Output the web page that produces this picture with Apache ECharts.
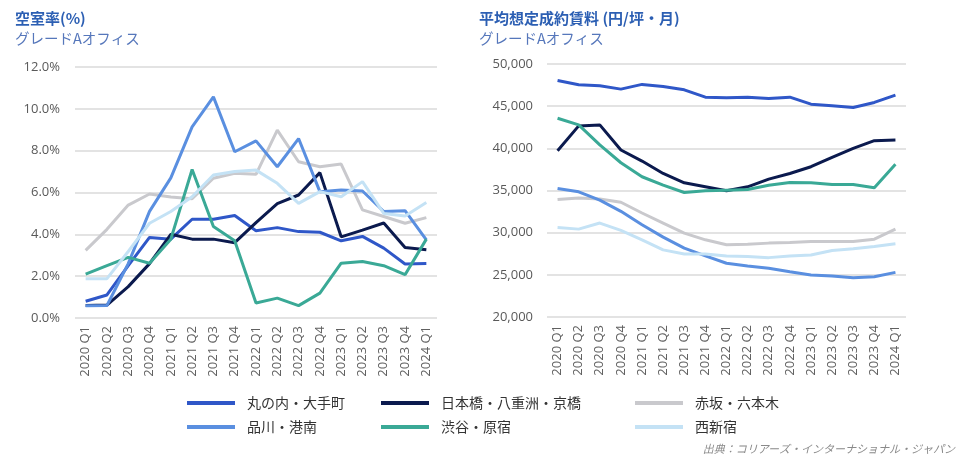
<!DOCTYPE html>
<html><head><meta charset="utf-8">
<script src="https://cdn.jsdelivr.net/npm/echarts@6/dist/echarts.min.js"></script>
<style>html,body{margin:0;padding:0;background:#fff}#c{width:963px;height:464px}</style>
</head><body><div id="c"></div>
<script>
const categories = ['2020 Q1','2020 Q2','2020 Q3','2020 Q4','2021 Q1','2021 Q2','2021 Q3','2021 Q4','2022 Q1','2022 Q2','2022 Q3','2022 Q4','2023 Q1','2023 Q2','2023 Q3','2023 Q4','2024 Q1'];
const seriesNames = ['丸の内・大手町','日本橋・八重洲・京橋','赤坂・六本木','品川・港南','渋谷・原宿','西新宿'];
const seriesColors = ['#2f57c8','#0b1a4e','#c9c9cd','#5a8fe0','#3aa996','#c4e2f5'];

// Vacancy rate (%)
const vacMarunouchi = [0.8,1.1,2.5,3.85,3.77,4.72,4.72,4.9,4.17,4.32,4.13,4.1,3.69,3.9,3.34,2.58,2.6];
const vacNihonbashi = [0.6,0.62,1.5,2.6,4.0,3.77,3.77,3.6,4.56,5.47,5.88,6.95,3.88,4.2,4.54,3.37,3.26];
const vacAkasaka = [3.23,4.24,5.4,5.93,5.78,5.7,6.68,6.92,6.87,8.98,7.47,7.23,7.36,5.17,4.85,4.53,4.8];
const vacShinagawa = [0.58,0.6,2.6,5.1,6.7,9.14,10.57,7.95,8.47,7.23,8.58,6.04,6.12,6.07,5.09,5.13,3.74];
const vacShibuya = [2.1,2.5,2.9,2.62,3.77,7.1,4.37,3.69,0.72,0.95,0.59,1.19,2.62,2.7,2.5,2.07,3.77];
const vacNishiShinjuku = [1.88,1.88,3.18,4.53,5.09,5.8,6.84,7.0,7.07,6.44,5.48,6.04,5.8,6.52,5.0,4.88,5.52];

// Average assumed contract rent (yen/tsubo/month)
const rentMarunouchi = [48050,47540,47420,47020,47580,47340,46940,46070,45990,46070,45910,46070,45240,45040,44840,45440,46310];
const rentNihonbashi = [39720,42660,42780,39800,38490,37020,35910,35440,34960,35440,36350,37020,37820,38930,40000,40910,40990];
const rentAkasaka = [33930,34120,34000,33610,32330,31140,29950,29150,28560,28640,28760,28830,28950,28950,28950,29230,30420];
const rentShinagawa = [35240,34840,33850,32530,30940,29470,28160,27240,26370,26050,25770,25370,24980,24860,24660,24780,25290];
const rentShibuya = [43570,42780,40400,38290,36630,35630,34760,34960,35040,35120,35630,35950,35910,35710,35710,35320,38100];
const rentNishiShinjuku = [30620,30420,31140,30270,29150,27960,27480,27480,27240,27160,27040,27240,27360,27880,28080,28360,28680];

const vacData = [vacMarunouchi,vacNihonbashi,vacAkasaka,vacShinagawa,vacShibuya,vacNishiShinjuku];
const rentData = [rentMarunouchi,rentNihonbashi,rentAkasaka,rentShinagawa,rentShibuya,rentNishiShinjuku];

const FONT = '"Open Sans","Noto Sans CJK JP",sans-serif';
const JFONT = '"Noto Sans CJK JP","Open Sans",sans-serif';

function mkSeries(data, idx){
  return data.map((d,i)=>({
    name: seriesNames[i], type:'line', xAxisIndex: idx, yAxisIndex: idx,
    data: d, symbol:'none', lineStyle:{width:3, color: seriesColors[i]},
    itemStyle:{color: seriesColors[i]}, z: 2, animation:false
  }));
}
function xAx(idx){
  return {type:'category', gridIndex: idx, data: categories, boundaryGap:true,
    axisLine:{show:false}, axisTick:{show:false},
    axisLabel:{rotate:90, fontSize:13, color:'#606060', fontFamily:FONT, margin:8, interval:0}};
}
const splitLine = {show:true, lineStyle:{color:'#dadada', width:1.5}};
const legendCols = [[0,3],[1,4],[2,5]];
const legendLeft = [182, 376, 630];

const chart = echarts.init(document.getElementById('c'), null, {renderer:'canvas'});
chart.setOption({
  animation:false,
  title:[
    {text:'空室率(%)', subtext:'グレードAオフィス', left:10, top:6, itemGap:5,
     textStyle:{fontSize:15, fontWeight:'bold', color:'#2c5fb3', fontFamily:JFONT},
     subtextStyle:{fontSize:14.5, color:'#5677bb', fontFamily:JFONT}},
    {text:'平均想定成約賃料 (円/坪・月)', subtext:'グレードAオフィス', left:474, top:6, itemGap:5,
     textStyle:{fontSize:15, fontWeight:'bold', color:'#2c5fb3', fontFamily:JFONT},
     subtextStyle:{fontSize:14.5, color:'#5677bb', fontFamily:JFONT}}
  ],
  grid:[
    {left:75, top:67, width:362, height:251},
    {left:547, top:64, width:359, height:253}
  ],
  xAxis:[xAx(0), xAx(1)],
  yAxis:[
    {type:'value', gridIndex:0, min:0, max:12, interval:2,
     axisLabel:{formatter:v=>v.toFixed(1)+'%', fontSize:13, color:'#595959', fontFamily:FONT, margin:15},
     splitLine: splitLine, axisLine:{show:false}, axisTick:{show:false}},
    {type:'value', gridIndex:1, min:20000, max:50000, interval:5000,
     axisLabel:{formatter:v=>v.toLocaleString('en-US'), fontSize:13, color:'#595959', fontFamily:FONT, margin:14},
     splitLine: splitLine, axisLine:{show:false}, axisTick:{show:false}}
  ],
  legend: legendCols.map((col,k)=>({
    orient:'vertical', left: legendLeft[k], top: 391, itemGap: 10,
    itemWidth: 48, itemHeight: 4, icon:'rect',
    data: col.map(i=>seriesNames[i]),
    textStyle:{fontSize:14, color:'#333', fontFamily:JFONT, padding:[0,0,0,7]},
    selectedMode:false
  })),
  graphic:[{type:'text', right:8, top:443,
    style:{text:'出典：コリアーズ・インターナショナル・ジャパン', fontSize:11, fill:'#8a8a8a', fontFamily:JFONT, fontStyle:'italic'}}],
  series: [...mkSeries(vacData,0), ...mkSeries(rentData,1)]
});
</script></body></html>
